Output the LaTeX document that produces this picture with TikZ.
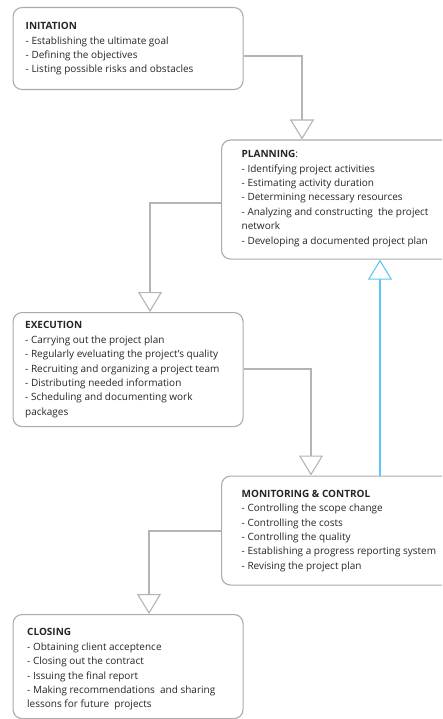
\documentclass[tikz,border=0pt]{standalone}
\usepackage{fontspec}
\setmainfont{Open Sans}
\usetikzlibrary{arrows.meta}
\definecolor{boxgray}{HTML}{ABABAB}
\definecolor{linegray}{HTML}{B4B4B4}
\definecolor{txt}{HTML}{262626}
\definecolor{skyblue}{HTML}{5CC8F5}
\tikzset{
  phasebox/.style={draw=boxgray, line width=1.1pt, rounded corners=9pt, minimum width=230pt, inner sep=0pt, anchor=north west},
  phasetext/.style={anchor=north west, inner sep=0pt, align=left, text=txt, font=\fontsize{10}{14.35}\selectfont},
  conn/.style={draw=linegray, line width=1.1pt, -{Triangle[open, width=24pt, length=20pt, line width=1.1pt]}},
  back/.style={draw=skyblue, line width=1.1pt, -{Triangle[open, width=24pt, length=20pt, line width=1.1pt]}}
}
\begin{document}
\begin{tikzpicture}[x=1pt, y=-1pt]
\clip (0,0) rectangle (442,719);
\fill[white] (0,0) rectangle (442,719);
% boxes
\node[phasebox, minimum height=82pt] (init) at (12.5,7) {};
\node[phasebox, minimum height=119pt] (plan) at (221,139.5) {};
\node[phasebox, minimum height=114pt] (exec) at (12.5,312) {};
\node[phasebox, minimum height=109pt] (mon) at (221,475.5) {};
\node[phasebox, minimum height=104pt] (close) at (12.5,614) {};
% texts
\node[phasetext] (initT) at (25.5,22.5) {\textbf{INITATION}\\- Establishing the ultimate goal\\- Defining the objectives\\- Listing possible risks and obstacles};
\node[phasetext] (planT) at (241.5,150.5) {\textbf{PLANNING}:\\- Identifying project activities\\- Estimating activity duration\\- Determining necessary resources\\- Analyzing and constructing\ \ the project\\network\\- Developing a documented project plan};
\node[phasetext] (execT) at (25,321.5) {\textbf{EXECUTION}\\- Carrying out the project plan\\- Regularly eveluating the project's quality\\- Recruiting and organizing a project team\\- Distributing needed information\\- Scheduling and documenting work\\packages};
\node[phasetext] (monT) at (241.5,490) {\textbf{MONITORING \& CONTROL}\\- Controlling the scope change\\- Controlling the costs\\- Controlling the quality\\- Establishing a progress reporting system\\- Revising the project plan};
\node[phasetext] (closeT) at (27,628.5) {\textbf{CLOSING}\\- Obtaining client acceptence\\- Closing out the contract\\- Issuing the final report\\- Making recommendations\ \ and sharing\\lessons for future\ \ projects};
% connector bends
\coordinate (b1) at (302,56);
\coordinate (b2) at (150,203);
\coordinate (b3) at (311,369);
\coordinate (b4) at (149,531);
\coordinate (b5) at (380,400);
% connectors
\draw[conn] (b1 -| init.east) -| (b1 |- plan.north);
\draw[conn] (b2 -| plan.west) -| (b2 |- exec.north);
\draw[conn] (b3 -| exec.east) -| (b3 |- mon.north);
\draw[conn] (b4 -| mon.west) -| (b4 |- close.north);
\draw[back] (b5 |- mon.north) -- (b5 |- plan.south);
\end{tikzpicture}
\end{document}
